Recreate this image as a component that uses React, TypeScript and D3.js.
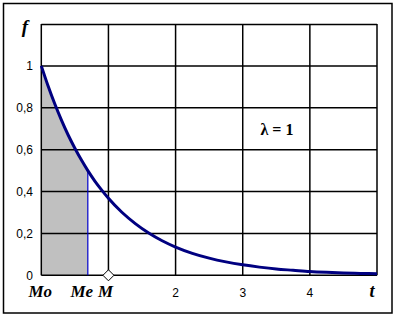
import React from "react";
import * as d3 from "d3";

const tValues = [0, 0.1, 0.2, 0.3, 0.4, 0.5, 0.6, 0.693, 0.8, 0.9, 1, 1.2, 1.4, 1.6, 1.8, 2, 2.25, 2.5, 2.75, 3, 3.25, 3.5, 3.75, 4, 4.25, 4.5, 4.75, 5];
const fValues = [1, 0.905, 0.819, 0.741, 0.670, 0.607, 0.549, 0.5, 0.449, 0.407, 0.368, 0.301, 0.247, 0.202, 0.165, 0.135, 0.105, 0.082, 0.064, 0.050, 0.039, 0.030, 0.024, 0.018, 0.014, 0.011, 0.009, 0.007];
const yTicks = [0, 0.2, 0.4, 0.6, 0.8, 1];
const yTickLabels = ["0", "0,2", "0,4", "0,6", "0,8", "1"];
const xGrid = [0, 1, 2, 3, 4, 5];
const xNumTicks = [2, 3, 4];
const median = 0.693;
const mean = 1;

export default function App() {
  const W = 396, H = 318;
  const x = d3.scaleLinear().domain([0, 5]).range([41.3, 377]);
  const y = d3.scaleLinear().domain([0, 1.2]).range([275.3, 24]);
  const pts = tValues.map((t, i) => [t, fValues[i]] as [number, number]);
  const line = d3.line<[number, number]>().x(d => x(d[0])).y(d => y(d[1])).curve(d3.curveMonotoneX);
  const shadePts = pts.filter(p => p[0] <= median + 1e-9);
  const area = d3.area<[number, number]>().x(d => x(d[0])).y0(y(0)).y1(d => y(d[1])).curve(d3.curveMonotoneX);
  const medF = fValues[tValues.indexOf(median)];
  const sans = "'Liberation Sans', Arial, sans-serif";
  const serif = "'Liberation Serif', 'Times New Roman', serif";
  const cx = x(mean), cy = y(0), r = 5.5;
  return (
    <svg width={W} height={H} style={{ position: "absolute", left: 0, top: 0, background: "#fff" }}>
      <rect x={3.5} y={3.5} width={388.5} height={309.5} fill="#fff" stroke="#000" strokeWidth={1.5} />
      <path d={area(shadePts) || ""} fill="#c0c0c0" />
      {yTicks.map(v => (
        <line key={"h" + v} x1={x(0)} x2={x(5)} y1={y(v)} y2={y(v)} stroke="#000" strokeWidth={1.5} />
      ))}
      <line x1={x(0)} x2={x(5)} y1={24.5} y2={24.5} stroke="#000" strokeWidth={1.5} />
      {xGrid.map(v => (
        <line key={"v" + v} x1={x(v)} x2={x(v)} y1={24} y2={y(0)} stroke="#000" strokeWidth={1.5} />
      ))}
      <line x1={x(median)} x2={x(median)} y1={y(0)} y2={y(medF)} stroke="#0000cc" strokeWidth={1.2} />
      <path d={line(pts) || ""} fill="none" stroke="#000080" strokeWidth={3} />
      <path d={`M${cx - r},${cy} L${cx},${cy - r} L${cx + r},${cy} L${cx},${cy + r} Z`} fill="#fff" stroke="#000" strokeWidth={1} />
      {yTicks.map((v, i) => (
        <text key={"yl" + v} x={33} y={y(v) + 4.5} textAnchor="end" fontFamily={sans} fontSize={12}>{yTickLabels[i]}</text>
      ))}
      {xNumTicks.map(v => (
        <text key={"xl" + v} x={x(v)} y={297} textAnchor="middle" fontFamily={sans} fontSize={12}>{v}</text>
      ))}
      <text x={x(0) - 1} y={297} textAnchor="middle" fontFamily={serif} fontSize={17} fontWeight="bold" fontStyle="italic">Mo</text>
      <text x={x(median) - 6} y={297} textAnchor="middle" fontFamily={serif} fontSize={17} fontWeight="bold" fontStyle="italic">Me</text>
      <text x={x(mean) - 3} y={297} textAnchor="middle" fontFamily={serif} fontSize={17} fontWeight="bold" fontStyle="italic">M</text>
      <text x={x(5) - 5} y={297} textAnchor="middle" fontFamily={serif} fontSize={18} fontWeight="bold" fontStyle="italic">t</text>
      <text x={25} y={33} textAnchor="middle" fontFamily={serif} fontSize={19} fontWeight="bold" fontStyle="italic">f</text>
      <text x={277} y={135} textAnchor="middle" fontFamily={serif} fontSize={16} fontWeight="bold">λ = 1</text>
    </svg>
  );
}
